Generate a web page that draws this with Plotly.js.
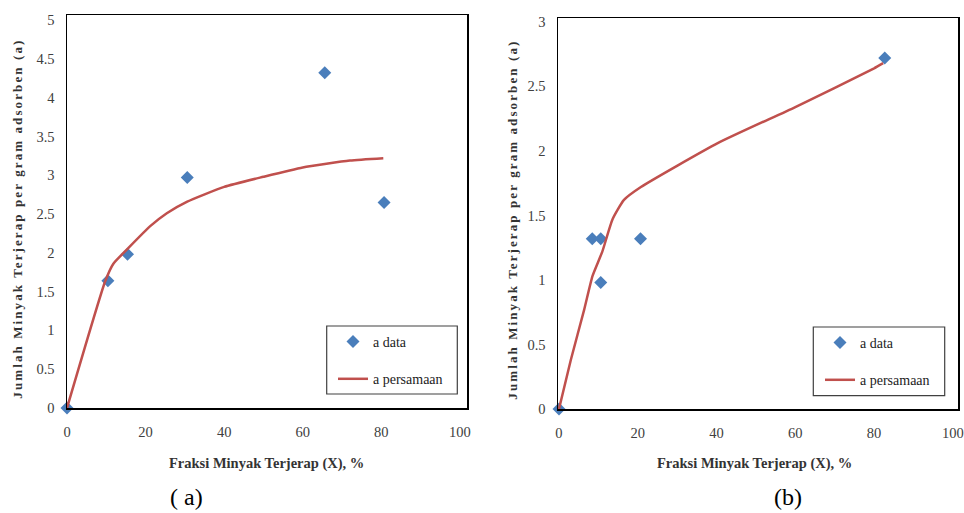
<!DOCTYPE html>
<html>
<head>
<meta charset="utf-8">
<script src="https://cdn.plot.ly/plotly-3.0.1.min.js"></script>
<style>
html,body{margin:0;padding:0;background:#fff;}
#chart{width:964px;height:513px;}
.ytitle-wide{letter-spacing:2.1px;}
</style>
</head>
<body>
<div id="chart"></div>
<script>
// Chart (a)
var xA_data = [0, 10.4, 15.4, 30.6, 65.6, 80.7];
var yA_data = [0, 1.64, 1.98, 2.97, 4.32, 2.65];
var xA_fit = [0, 9.7, 11.8, 15.4, 21.1, 25.4, 30.6, 40, 50, 60, 72, 80.5];
var yA_fit = [0, 1.63, 1.86, 2.05, 2.34, 2.51, 2.66, 2.85, 2.98, 3.10, 3.19, 3.22];
// Chart (b)
var xB_data = [0, 8.45, 10.6, 10.6, 20.7, 82.7];
var yB_data = [0, 1.32, 1.32, 0.98, 1.32, 2.72];
var xB_fit = [0, 3.0, 6.4, 8.5, 11, 13.6, 16.5, 20.8, 40.3, 60, 80, 82.3];
var yB_fit = [0, 0.38, 0.77, 1.03, 1.22, 1.47, 1.62, 1.72, 2.06, 2.34, 2.64, 2.68];

var seriesNames = ['a data', 'a persamaan'];
var xTitle = 'Fraksi Minyak Terjerap (X), %';
var yTitle = 'Jumlah Minyak Terjerap per gram adsorben (a)';
var captions = ['( a)', '(b)'];

var blue = '#4A7EBB', red = '#C0504D';
var serif = "'Liberation Serif', 'Times New Roman', 'DejaVu Serif', serif";

var traces = [
  {x: xA_data, y: yA_data, mode: 'markers', type: 'scatter', name: seriesNames[0],
   marker: {symbol: 'diamond', size: 10, color: blue}, xaxis: 'x', yaxis: 'y',
   legend: 'legend', legendgroup: 'a1', cliponaxis: false},
  {x: xA_fit, y: yA_fit, mode: 'lines', type: 'scatter', name: seriesNames[1],
   line: {color: red, width: 2.5, shape: 'spline', smoothing: 0.5}, xaxis: 'x', yaxis: 'y',
   legend: 'legend', legendgroup: 'a2'},
  {x: xB_data, y: yB_data, mode: 'markers', type: 'scatter', name: seriesNames[0],
   marker: {symbol: 'diamond', size: 10, color: blue}, xaxis: 'x2', yaxis: 'y2',
   legend: 'legend2', legendgroup: 'b1', cliponaxis: false},
  {x: xB_fit, y: yB_fit, mode: 'lines', type: 'scatter', name: seriesNames[1],
   line: {color: red, width: 2.5, shape: 'spline', smoothing: 0.5}, xaxis: 'x2', yaxis: 'y2',
   legend: 'legend2', legendgroup: 'b2'}
];

function xax(domain, range, anchor) {
  return {domain: domain, range: range, anchor: anchor, dtick: 20, tick0: 0,
    showgrid: false, zeroline: false, showline: true, mirror: true, linecolor: '#000', linewidth: 1.5,
    ticks: '', ticklabelstandoff: 10, tickfont: {family: serif, size: 14.5, color: '#404040'}, fixedrange: true};
}
function yax(domain, range, anchor) {
  return {domain: domain, range: range, anchor: anchor, dtick: 0.5, tick0: 0,
    showgrid: false, zeroline: false, showline: true, mirror: true, linecolor: '#000', linewidth: 1.5,
    ticks: '', ticklabelstandoff: 8, tickfont: {family: serif, size: 14.5, color: '#404040'}, fixedrange: true};
}

var W = 964, H = 513;
function px(v){return v / W;}
function py(v){return 1 - v / H;}

var legendCommon = {bgcolor: 'rgba(0,0,0,0)', borderwidth: 0, traceorder: 'grouped', tracegroupgap: 16,
  font: {family: serif, size: 14, color: '#222'}, xanchor: 'left', yanchor: 'top'};

function ann(text, x, y, size, color, angle) {
  return {text: text, xref: 'paper', yref: 'paper', x: px(x), y: py(y), showarrow: false,
    xanchor: 'center', yanchor: 'middle', textangle: angle || 0,
    font: {family: serif, size: size, color: color}};
}

var layout = {
  width: W, height: H, margin: {l: 0, r: 0, t: 0, b: 0},
  paper_bgcolor: '#fff', plot_bgcolor: '#fff', showlegend: true,
  font: {family: serif},
  xaxis: xax([px(67), px(467)], [0, 101.8], 'y'),
  yaxis: yax([py(408), py(15)], [0, 5.065], 'x'),
  xaxis2: xax([px(558), px(958)], [-0.25, 101.3], 'y2'),
  yaxis2: yax([py(409), py(18)], [0, 3.03], 'x2'),
  legend: Object.assign({x: px(333), y: py(326)}, legendCommon),
  legend2: Object.assign({x: px(820), y: py(327)}, legendCommon),
  shapes: [
    {type: 'rect', xref: 'paper', yref: 'paper', x0: px(326.7), x1: px(457.3), y0: py(394), y1: py(326),
     line: {color: '#404040', width: 1.2}},
    {type: 'rect', xref: 'paper', yref: 'paper', x0: px(813.3), x1: px(944.7), y0: py(395.7), y1: py(327),
     line: {color: '#404040', width: 1.2}}
  ],
  annotations: [
    ann('<b>' + xTitle + '</b>', 266, 463, 14.5, '#333'),
    ann('<b>' + xTitle + '</b>', 754.5, 463, 14.5, '#333'),
    ann('<b>' + yTitle + '</b>', 17, 218.5, 13, '#333', -90),
    ann('<b>' + yTitle + '</b>', 512, 219.5, 13, '#333', -90),
    ann(captions[0], 186, 497, 24, '#000'),
    ann(captions[1], 787.5, 497, 24, '#000')
  ]
};

Plotly.newPlot('chart', traces, layout, {displayModeBar: false, staticPlot: true}).then(function(){
  var anns = document.querySelectorAll('.annotation-text');
  anns.forEach(function(t){
    if (t.textContent.indexOf('Jumlah') === 0) t.classList.add('ytitle-wide');
  });
});
</script>
</body>
</html>
